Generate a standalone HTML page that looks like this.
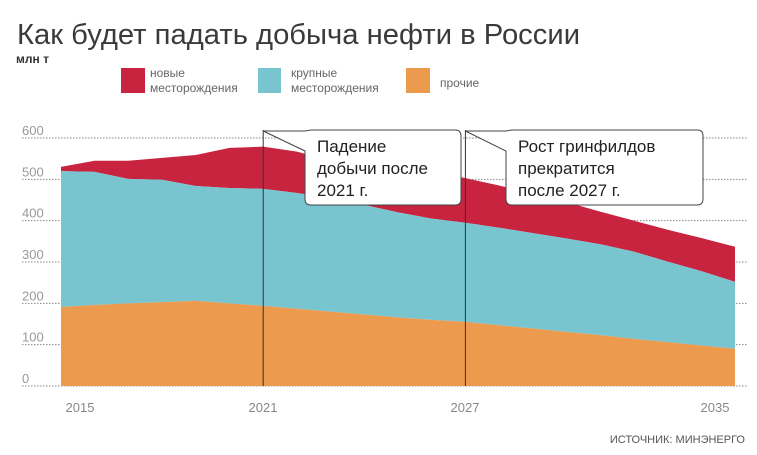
<!DOCTYPE html>
<html><head><meta charset="utf-8"><style>
body{margin:0;background:#fff;width:757px;height:455px;overflow:hidden;font-family:"Liberation Sans","DejaVu Sans",sans-serif}
svg{display:block}
</style></head><body>
<svg width="757" height="455">
<text x="17" y="44" font-size="29" fill="#3a3a3a" textLength="563" lengthAdjust="spacingAndGlyphs">Как будет падать добыча нефти в России</text>
<text x="16" y="63" font-size="12" font-weight="bold" fill="#333">млн т</text>
<g>
<rect x="121" y="68" width="24" height="25" fill="#c8233f"/>
<text x="150" y="77" font-size="12" fill="#666"><tspan x="150">новые</tspan><tspan x="150" dy="15">месторождения</tspan></text>
<rect x="258" y="68" width="23" height="25" fill="#78c5d0"/>
<text x="291" y="77" font-size="12" fill="#666"><tspan x="291">крупные</tspan><tspan x="291" dy="15">месторождения</tspan></text>
<rect x="406" y="68" width="24" height="25" fill="#ec9a4e"/>
<text x="440" y="87" font-size="12" fill="#666">прочие</text>
</g>
<g id="grid"></g>
<g id="areas"></g>
<g id="overlay"></g>
<text x="745" y="443" font-size="11" fill="#555" text-anchor="end">ИСТОЧНИК: МИНЭНЕРГО</text>
</svg>
<script>
const years=[2015,2016,2017,2018,2019,2020,2021,2022,2023,2024,2025,2026,2027,2028,2029,2030,2031,2032,2033,2034,2035];
const other=[191,196,200,203,206,200,194,187,180,173,166,160,155,147,139,131,123,114,106,98,90];
const large=[329,322,301,296,278,279,283,280,275,265,254,245,240,236,231,226,220,211,195,180,162];
const fresh=[10,27,44,53,75,97,102,100,90,100,110,113,108,102,95,88,79,75,77,80,85];
const yTicks=[0,100,200,300,400,500,600];
const xTickYears=[2015,2021,2027,2035];
const xTickLabelPos=[80,263,465,715];
const NS='http://www.w3.org/2000/svg';
const x0=61,x1=735,y0=386,y600=138;
const X=y=>x0+(y-2015)*(x1-x0)/20;
const Y=v=>y0-v*(y0-y600)/600;
function mk(t,a,p){const e=document.createElementNS(NS,t);for(const k in a)e.setAttribute(k,a[k]);p.appendChild(e);return e;}
const grid=document.getElementById('grid');
yTicks.forEach(v=>{
 const l=mk('line',{x1:22,x2:748,y1:Y(v),y2:Y(v),stroke:'#888','stroke-width':1,'stroke-dasharray':'1.5,1.5'},grid);
 
 
 const t=mk('text',{x:22,y:Y(v)-3,'font-size':13,fill:'#999'},grid);t.textContent=v;
 
 
});
const areas=document.getElementById('areas');
const b1=other, b2=other.map((v,i)=>v+large[i]), b3=b2.map((v,i)=>v+fresh[i]);
function area(top,bot,fill,name){
 let d='M'+years.map((yr,i)=>X(yr)+','+Y(top[i])).join('L');
 for(let i=years.length-1;i>=0;i--)d+='L'+X(years[i])+','+Y(bot[i]);
 const p=mk('path',{d:d+'Z',fill:fill},areas);
 
 
}
const zero=years.map(()=>0);
area(b3,b2,'#c8233f','area-new-fields');
area(b2,b1,'#78c5d0','area-large-fields');
area(b1,zero,'#ec9a4e','area-other');
xTickYears.forEach((yr,i)=>{
 const t=mk('text',{x:xTickLabelPos[i],y:412,'font-size':13,fill:'#888','text-anchor':'middle'},grid);t.textContent=yr;
 
 
});
const ov=document.getElementById('overlay');
function callout(yr,bx,bw,lines,name){
 const lx=X(yr);
 const l=mk('line',{x1:lx,x2:lx,y1:130,y2:386,stroke:'#333','stroke-width':1},ov);
 
 
 const g=mk('g',{},ov);
 
 
 mk('path',{d:`M${bx+6},130 L${bx+bw-6},130 Q${bx+bw},130 ${bx+bw},136 L${bx+bw},199 Q${bx+bw},205 ${bx+bw-6},205 L${bx+6},205 Q${bx},205 ${bx},199 L${bx},151 L${lx},131 L${bx},131 Z`,fill:'#fff',stroke:'#444','stroke-width':1},g);
 lines.forEach((s,i)=>{const t=mk('text',{x:bx+12,y:152+i*22,'font-size':17,fill:'#222'},g);t.textContent=s;});
}
callout(2021,305,156,['Падение','добычи после','2021 г.'],'callout-2021');
callout(2027,506,197,['Рост гринфилдов','прекратится','после 2027 г.'],'callout-2027');
</script>
</body></html>
